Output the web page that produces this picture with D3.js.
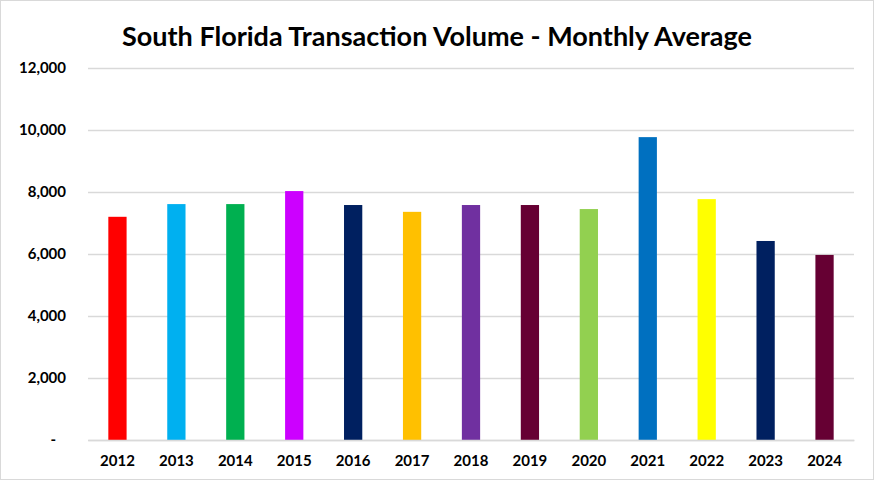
<!DOCTYPE html>
<html>
<head>
<meta charset="utf-8">
<script src="https://cdn.jsdelivr.net/npm/d3@7"></script>
<style>
  body { margin: 0; background: #fff; }
  svg { display: block; font-family: Lato, Calibri, "Open Sans", sans-serif; }
</style>
</head>
<body>
<div id="chart"></div>
<script>
// Chart data
const years = ['2012', '2013', '2014', '2015', '2016', '2017', '2018', '2019', '2020', '2021', '2022', '2023', '2024'];
const volumes = [7200, 7610, 7610, 8030, 7580, 7360, 7580, 7580, 7450, 9770, 7770, 6420, 5970];
const barColors = ['#FF0000', '#00B0F0', '#00B050', '#CC00FF', '#002060', '#FFC000', '#7030A0', '#660033', '#92D050', '#0070C0', '#FFFF00', '#002060', '#660033'];
const yTicks = [0, 2000, 4000, 6000, 8000, 10000, 12000];

const W = 874, H = 480;
const margin = { top: 68, right: 20, bottom: 40, left: 88 };
const width = 854 - margin.left;
const height = 440 - margin.top;

const svg = d3.select('#chart').append('svg')
  .attr('width', W).attr('height', H);

// outer border
svg.append('rect')
  .attr('x', 0.5).attr('y', 0.5)
  .attr('width', W - 1).attr('height', H - 1)
  .attr('fill', '#fff').attr('stroke', '#D9D9D9');

svg.append('text')
  .attr('x', 437).attr('y', 46)
  .attr('text-anchor', 'middle')
  .attr('font-size', '27px').attr('font-weight', 'bold').attr('fill', '#000')
  .text('South Florida Transaction Volume - Monthly Average');

const g = svg.append('g')
  .attr('transform', `translate(${margin.left},${margin.top})`);

const x = d3.scaleBand().domain(years).range([0, width]).paddingInner(0.69).paddingOuter(0.345);
const y = d3.scaleLinear().domain([0, 12000]).range([height, 0]);

// gridlines
g.append('g')
  .call(d3.axisLeft(y).tickValues(yTicks).tickSize(-width).tickFormat(''))
  .call(s => s.select('.domain').remove())
  .selectAll('line').attr('stroke', '#D9D9D9').attr('stroke-width', 1.5);

// y labels
g.append('g')
  .call(d3.axisLeft(y).tickValues(yTicks).tickSize(0).tickPadding(22)
    .tickFormat(d => d === 0 ? '-' : d3.format(',')(d)))
  .call(s => s.select('.domain').remove())
  .selectAll('text')
  .attr('font-family', 'Lato, sans-serif')
  .attr('font-size', '15px').attr('font-weight', 'bold').attr('fill', '#000')
  .attr('dx', d => d === 0 ? '-10px' : 0);

// bars
g.selectAll('.bar')
  .data(years)
  .join('rect')
  .attr('class', 'bar')
  .attr('x', d => x(d))
  .attr('y', (d, i) => y(volumes[i]))
  .attr('width', x.bandwidth())
  .attr('height', (d, i) => height - y(volumes[i]))
  .attr('fill', (d, i) => barColors[i]);

// x axis
g.append('g')
  .attr('transform', `translate(0,${height})`)
  .call(d3.axisBottom(x).tickSize(0).tickPadding(15))
  .call(s => s.select('.domain').attr('stroke', '#D9D9D9').attr('stroke-width', 1.5))
  .selectAll('text')
  .attr('font-family', 'Lato, sans-serif')
  .attr('font-size', '15px').attr('font-weight', 'bold').attr('fill', '#000');
</script>
</body>
</html>
